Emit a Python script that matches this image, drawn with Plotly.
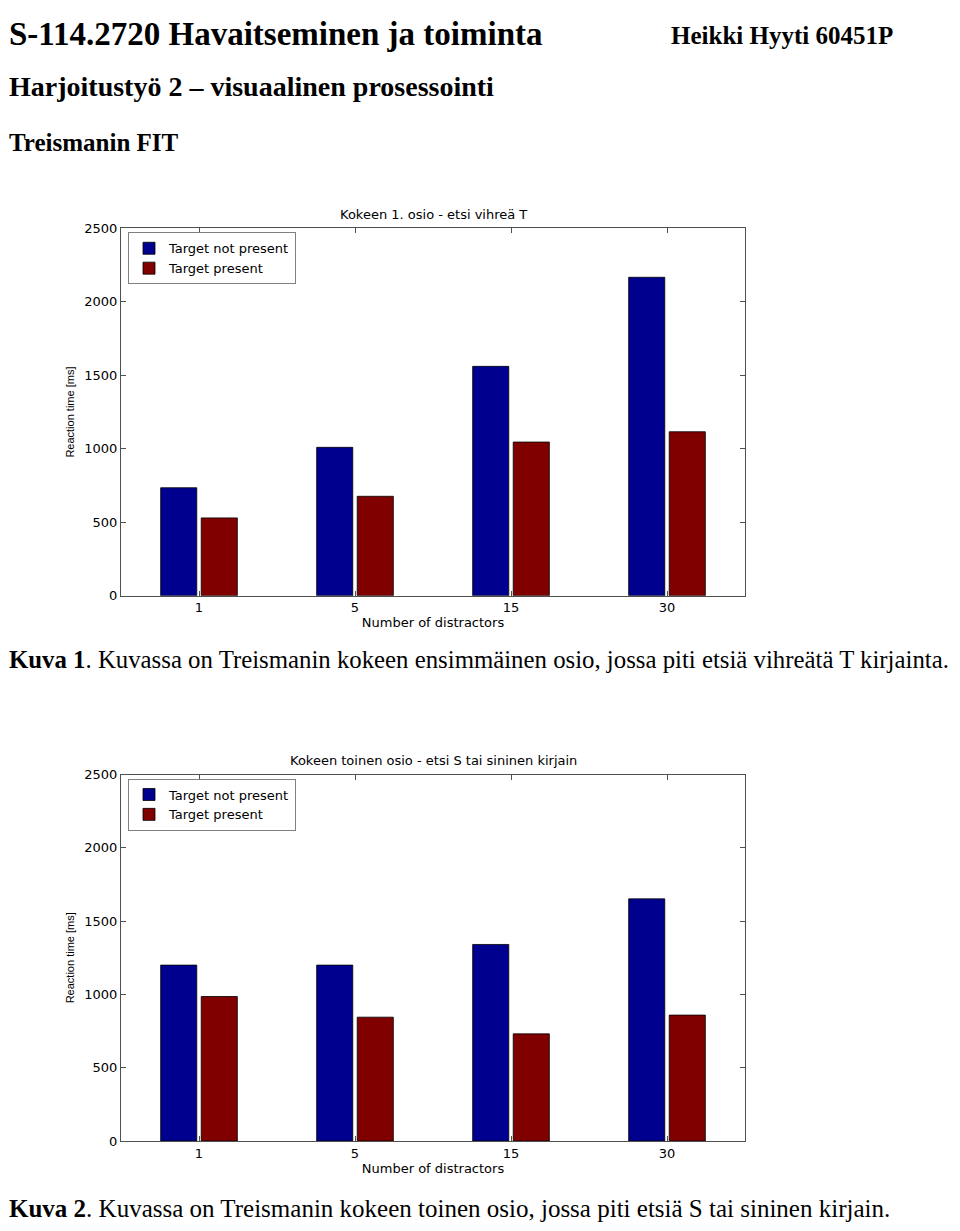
import plotly.graph_objects as go

# Reference page size; the browser page has an 8px body margin, so the figure is
# made smaller and every position is shifted by that margin.
PAGE_W, PAGE_H = 960, 1231
OFF = 8
W, H = PAGE_W - OFF, PAGE_H - OFF

categories = ["1", "5", "15", "30"]
exp1_not_present = [735, 1010, 1561, 2167]
exp1_present = [530, 677, 1046, 1116]
exp2_not_present = [1200, 1200, 1341, 1652]
exp2_present = [986, 845, 731, 859]
series_names = ["Target not present", "Target present"]
y_ticks = [0, 500, 1000, 1500, 2000, 2500]

BLUE = "#00008F"
RED = "#800000"
SANS = "DejaVu Sans, Arial, sans-serif"
NARROW = "Liberation Sans, Arial, sans-serif"
SERIF = "Liberation Serif, Times New Roman, serif"


def px_x(p):
    return (p - OFF) / W


def px_y(p):
    return 1 - (p - OFF) / H


fig = go.Figure()

charts = [
    (exp1_not_present, exp1_present, "x", "y", "legend"),
    (exp2_not_present, exp2_present, "x2", "y2", "legend2"),
]
for vals_a, vals_b, xa, ya, lg in charts:
    for vals, name, col in [(vals_a, series_names[0], BLUE), (vals_b, series_names[1], RED)]:
        fig.add_trace(go.Bar(
            x=categories, y=vals, name=name, xaxis=xa, yaxis=ya, legend=lg,
            marker=dict(color=col, line=dict(color="black", width=0.8)),
        ))

axis_common = dict(
    showline=True, linecolor="#505050", linewidth=1, mirror="ticks",
    ticks="inside", ticklen=5, tickcolor="#505050", showgrid=False, zeroline=False,
    tickfont=dict(family=SANS, size=13, color="black"),
)
xtitle = dict(text="Number of distractors", font=dict(family=SANS, size=13, color="black"), standoff=0)
ytitle = dict(text="Reaction time [ms]", font=dict(family=NARROW, size=11, color="black"), standoff=7)

x0, x1 = px_x(121), px_x(745)
legend_common = dict(xanchor="left", yanchor="top", bordercolor="#808080", borderwidth=1,
                     bgcolor="white", font=dict(family=SANS, size=13, color="black"),
                     tracegroupgap=0, itemwidth=30)
fig.update_layout(
    width=W, height=H, margin=dict(l=0, r=0, t=0, b=0),
    paper_bgcolor="white", plot_bgcolor="white",
    barmode="group", bargap=0.48, bargroupgap=0.11,
    showlegend=True,
    xaxis=dict(domain=[x0, x1], anchor="y", type="category", range=[-0.5, 3.5],
               title=xtitle, **axis_common),
    yaxis=dict(domain=[px_y(596), px_y(224)], anchor="x", range=[0, 2500], tickvals=y_ticks,
               title=ytitle, **axis_common),
    xaxis2=dict(domain=[x0, x1], anchor="y2", type="category", range=[-0.5, 3.5],
                title=xtitle, **axis_common),
    yaxis2=dict(domain=[px_y(1148), px_y(777)], anchor="x2", range=[0, 2500], tickvals=y_ticks,
                title=ytitle, **axis_common),
    legend=dict(x=px_x(128), y=px_y(228), **legend_common),
    legend2=dict(x=px_x(128), y=px_y(781), **legend_common),
)


def text(t, x, y, size, family=SERIF, xanchor="left", yanchor="middle"):
    fig.add_annotation(text=t, x=px_x(x), y=px_y(y), xref="paper", yref="paper",
                       xanchor=xanchor, yanchor=yanchor, showarrow=False, borderpad=0,
                       font=dict(family=family, size=size, color="black"))


LEFT = OFF  # page left edge usable by the figure
text("<b>S-114.2720 Havaitseminen ja toiminta</b>", LEFT, OFF, 33, yanchor="top")
text("<b>Heikki Hyyti 60451P</b>", 670, OFF + 6, 25, yanchor="top")
text("<b>Harjoitustyö 2 – visuaalinen prosessointi</b>", LEFT, 80, 28)
text("<b>Treismanin FIT</b>", LEFT, 137, 25)
text("<b>Kuva 1</b>. Kuvassa on Treismanin kokeen ensimmäinen osio, jossa piti etsiä vihreätä T kirjainta.",
     LEFT, 661, 24.8)
text("<b>Kuva 2</b>. Kuvassa on Treismanin kokeen toinen osio, jossa piti etsiä S tai sininen kirjain.",
     LEFT, 1216, 25)
text("Kokeen 1. osio - etsi vihreä T", 433, 210, 13, family=SANS, xanchor="center")
text("Kokeen toinen osio - etsi S tai sininen kirjain", 433, 763, 13, family=SANS, xanchor="center")

fig.write_html("out.html")
